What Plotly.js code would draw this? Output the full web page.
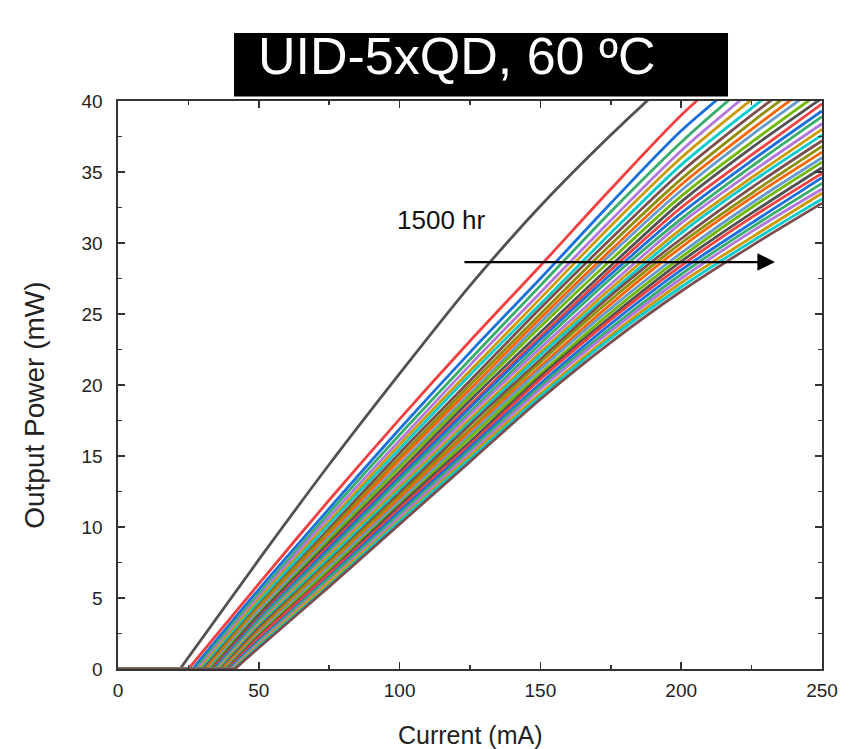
<!DOCTYPE html>
<html>
<head>
<meta charset="utf-8">
<script src="https://cdn.plot.ly/plotly-3.0.1.min.js"></script>
<style>
  html, body { margin: 0; padding: 0; background: #fff; }
  #chart { width: 851px; height: 749px; }
</style>
</head>
<body>
<div id="chart"></div>
<script>
// Current grid (mA) at which output power is read for every curve
const currentGrid = [50, 75, 100, 125, 150, 175, 200, 225, 250];

// Threshold current (mA) of each aging step (first = fresh device, last = 1500 hr)
const thresholds = [22.0, 25.0, 26.5, 27.5, 28.3, 29.0, 29.7, 30.3, 31.0, 31.5, 32.1, 32.6,
                    33.2, 33.7, 34.2, 34.7, 35.2, 35.6, 36.1, 36.5, 37.0, 37.4, 37.9, 38.3,
                    38.7, 39.1, 39.5, 39.9, 40.3, 40.7, 41.1, 41.5];

// Output power (mW) at currentGrid for each curve
const powerCurves = [
  [7.7, 14.4, 20.8, 27.0, 32.6, 37.6, 42.2, 46.5, 50.5],
  [6.0, 11.9, 17.6, 23.1, 28.4, 33.8, 39.0, 43.4, 47.5],
  [5.6, 11.3, 16.9, 22.3, 27.5, 32.8, 37.9, 42.1, 46.1],
  [5.3, 11.0, 16.5, 21.8, 27.0, 32.2, 37.1, 41.4, 45.3],
  [5.1, 10.7, 16.1, 21.4, 26.5, 31.6, 36.5, 40.7, 44.6],
  [4.9, 10.4, 15.8, 21.0, 26.1, 31.2, 36.0, 40.1, 43.9],
  [4.7, 10.2, 15.5, 20.7, 25.7, 30.7, 35.5, 39.5, 43.3],
  [4.5, 9.9, 15.2, 20.3, 25.4, 30.3, 35.0, 39.0, 42.7],
  [4.4, 9.7, 14.9, 20.0, 25.0, 29.9, 34.5, 38.5, 42.2],
  [4.2, 9.5, 14.7, 19.7, 24.7, 29.5, 34.1, 38.0, 41.7],
  [4.1, 9.3, 14.4, 19.4, 24.4, 29.2, 33.7, 37.6, 41.2],
  [3.9, 9.1, 14.2, 19.2, 24.1, 28.8, 33.3, 37.1, 40.7],
  [3.8, 8.9, 13.9, 18.9, 23.7, 28.4, 32.9, 36.7, 40.2],
  [3.6, 8.7, 13.7, 18.6, 23.4, 28.1, 32.5, 36.2, 39.8],
  [3.5, 8.5, 13.5, 18.4, 23.2, 27.8, 32.1, 35.8, 39.3],
  [3.4, 8.3, 13.3, 18.1, 22.9, 27.5, 31.7, 35.4, 38.9],
  [3.2, 8.1, 13.0, 17.9, 22.6, 27.1, 31.4, 35.0, 38.4],
  [3.1, 8.0, 12.8, 17.6, 22.3, 26.8, 31.0, 34.6, 38.0],
  [3.0, 7.8, 12.6, 17.4, 22.1, 26.5, 30.7, 34.3, 37.6],
  [2.9, 7.6, 12.4, 17.2, 21.8, 26.3, 30.3, 33.9, 37.2],
  [2.7, 7.5, 12.2, 16.9, 21.6, 26.0, 30.0, 33.5, 36.8],
  [2.6, 7.3, 12.0, 16.7, 21.3, 25.7, 29.7, 33.2, 36.4],
  [2.5, 7.2, 11.8, 16.5, 21.1, 25.4, 29.3, 32.8, 36.0],
  [2.4, 7.0, 11.6, 16.3, 20.8, 25.1, 29.0, 32.5, 35.7],
  [2.3, 6.8, 11.5, 16.0, 20.6, 24.8, 28.7, 32.1, 35.3],
  [2.2, 6.7, 11.3, 15.8, 20.4, 24.6, 28.4, 31.8, 34.9],
  [2.0, 6.5, 11.1, 15.6, 20.1, 24.3, 28.1, 31.4, 34.6],
  [1.9, 6.4, 10.9, 15.4, 19.9, 24.0, 27.8, 31.1, 34.2],
  [1.8, 6.2, 10.7, 15.2, 19.7, 23.8, 27.5, 30.8, 33.8],
  [1.7, 6.1, 10.5, 15.0, 19.4, 23.5, 27.2, 30.4, 33.5],
  [1.6, 5.9, 10.4, 14.8, 19.2, 23.3, 26.9, 30.1, 33.1],
  [1.5, 5.8, 10.2, 14.6, 19.0, 23.0, 26.6, 29.8, 32.8]
];

// Origin-style line colour cycle
const colorCycle = ['#515151', '#F14040', '#1A6FDF', '#37AD6B', '#B177DE', '#CC9900',
                    '#00CBCC', '#7D4E4E', '#8E8E00', '#FB6501', '#6699CC', '#6FB802'];

const titleText = 'UID-5xQD, 60 ºC';
const agingLabel = '1500 hr';
const xTitle = 'Current (mA)';
const yTitle = 'Output Power (mW)';

const FONT = 'Liberation Sans, Arial, sans-serif';
const traces = [];
powerCurves.forEach((p, i) => {
  const col = colorCycle[i % colorCycle.length];
  // below-threshold flat part
  traces.push({
    type: 'scatter', mode: 'lines',
    x: [0, thresholds[i]], y: [0, 0],
    line: { color: col, width: 2.8 },
    showlegend: false, hoverinfo: 'skip'
  });
  // lasing part
  traces.push({
    type: 'scatter', mode: 'lines',
    x: [thresholds[i]].concat(currentGrid), y: [0].concat(p),
    line: { color: col, width: 2.8, shape: 'spline', smoothing: 0.8 },
    showlegend: false, hoverinfo: 'skip'
  });
});

const axisCommon = {
  showline: true, linecolor: '#333', linewidth: 1.6,
  mirror: 'ticks', ticks: 'inside', ticklen: 7, tickwidth: 1.6, tickcolor: '#333',
  showgrid: false, zeroline: false,
  tickfont: { family: FONT, size: 19, color: '#222' }
};

const layout = {
  width: 851, height: 749,
  margin: { l: 118, r: 29, t: 101, b: 80 },
  paper_bgcolor: '#fff', plot_bgcolor: '#fff',
  xaxis: Object.assign({}, axisCommon, {
    range: [0, 250], dtick: 50, tick0: 0, ticklabelstandoff: 4,
    minor: { dtick: 25, ticks: 'inside', ticklen: 4, tickwidth: 1.6, tickcolor: '#333' }
  }),
  yaxis: Object.assign({}, axisCommon, {
    range: [0, 40], dtick: 5, tick0: 0, ticklabelstandoff: 10,
    minor: { dtick: 2.5, ticks: 'inside', ticklen: 4, tickwidth: 1.6, tickcolor: '#333' }
  }),
  shapes: [{
    type: 'rect', xref: 'paper', yref: 'paper',
    x0: 0.1648, x1: 0.8665, y0: 1.008, y1: 1.1197,
    fillcolor: '#000', line: { width: 0 }, layer: 'above'
  }],
  annotations: [
    {
      xref: 'paper', yref: 'paper', x: 0.482, y: 1.079,
      xanchor: 'center', yanchor: 'middle', showarrow: false,
      text: titleText,
      font: { family: FONT, size: 52, color: '#fff' }
    },
    {
      xref: 'paper', yref: 'paper', x: 0.5, y: -0.116,
      xanchor: 'center', yanchor: 'middle', showarrow: false,
      text: xTitle,
      font: { family: FONT, size: 25, color: '#222' }
    },
    {
      xref: 'paper', yref: 'paper', x: -0.118, y: 0.465,
      xanchor: 'center', yanchor: 'middle', showarrow: false, textangle: -90,
      text: yTitle,
      font: { family: FONT, size: 28, color: '#222' }
    },
    {
      xref: 'x', yref: 'y', x: 115, y: 31.6,
      xanchor: 'center', yanchor: 'middle', showarrow: false,
      text: agingLabel,
      font: { family: FONT, size: 26, color: '#111' }
    },
    {
      xref: 'x', yref: 'y', axref: 'x', ayref: 'y',
      x: 233.3, y: 28.66, ax: 122.5, ay: 28.66,
      text: '', showarrow: true, arrowhead: 2, arrowsize: 1.6, arrowwidth: 2.2,
      arrowcolor: '#000', standoff: 0, startstandoff: 0
    }
  ]
};

Plotly.newPlot('chart', traces, layout, { staticPlot: true, displayModeBar: false });
</script>
</body>
</html>
